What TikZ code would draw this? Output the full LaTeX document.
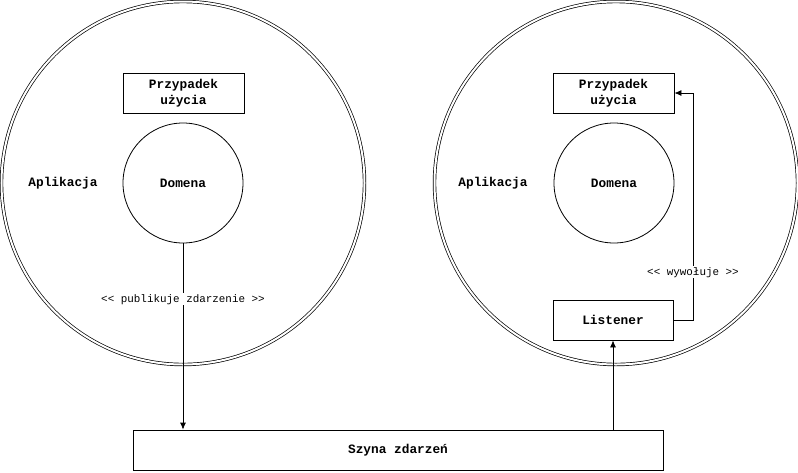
\documentclass[tikz,border=0pt]{standalone}
\usepackage{fontspec}
\setmonofont{Liberation Mono}
\usepackage{tikz}
\usetikzlibrary{arrows,arrows.meta,positioning}
\newcommand\boldlab{\fontsize{12.8}{16}\selectfont\ttfamily\bfseries}
\newcommand\smalllab{\fontsize{10.9}{12}\selectfont\ttfamily}

\begin{document}
\begin{tikzpicture}[x=1pt, y=-1pt, line width=0.8pt]
\useasboundingbox (0,0) rectangle (798,472);
\tikzstyle{app}=[draw, circle, double, double distance=2pt, line width=0.7pt, minimum size=363pt, inner sep=0pt]
\tikzstyle{dom}=[draw, circle, minimum size=120pt, inner sep=0pt, font=\boldlab]
\tikzstyle{box}=[draw, rectangle, minimum width=121pt, minimum height=40pt, align=center, font=\boldlab]
\tikzstyle{lab}=[font=\smalllab, fill=white, inner sep=1pt]
\tikzstyle{conn}=[-{Latex[length=7pt,width=6pt]}]
%% two applications
\node[app] (appL) at (183,183) {}; %%
\node[app] (appR) at (616,183) {}; %%
\node[font=\boldlab] (aplL) at (63,183) {Aplikacja}; %%
\node[font=\boldlab] (aplR) at (493,183) {Aplikacja}; %%
\node[dom] (domL) at (183,183) {Domena}; %%
\node[dom] (domR) at (614,183) {Domena}; %%
\node[box] (ucL) at (183.5,93) {Przypadek\\użycia}; %%
\node[box] (ucR) at (613.5,93) {Przypadek\\użycia}; %%
\node[box, minimum width=120pt] (lis) at (613,320) {Listener}; %%
%% event bus
\node[box, minimum width=530pt] (bus) at (398,450) {Szyna zdarzeń}; %%
\coordinate (turn) at (693,93); %%
%\draw[step=10,color=gray] (0,0) grid (798,472);%%
\draw[conn] (domL.south) -- (domL.south |- bus.north) node[lab, pos=0.3] {<< publikuje zdarzenie >>}; %%
\draw[conn] (bus.north -| lis.south) -- (lis.south); %%
\draw[conn] (lis.east) -| (turn) node[lab, pos=0.605] {<< wywołuje >>} -- (ucR.east); %%
\end{tikzpicture}
\end{document}
